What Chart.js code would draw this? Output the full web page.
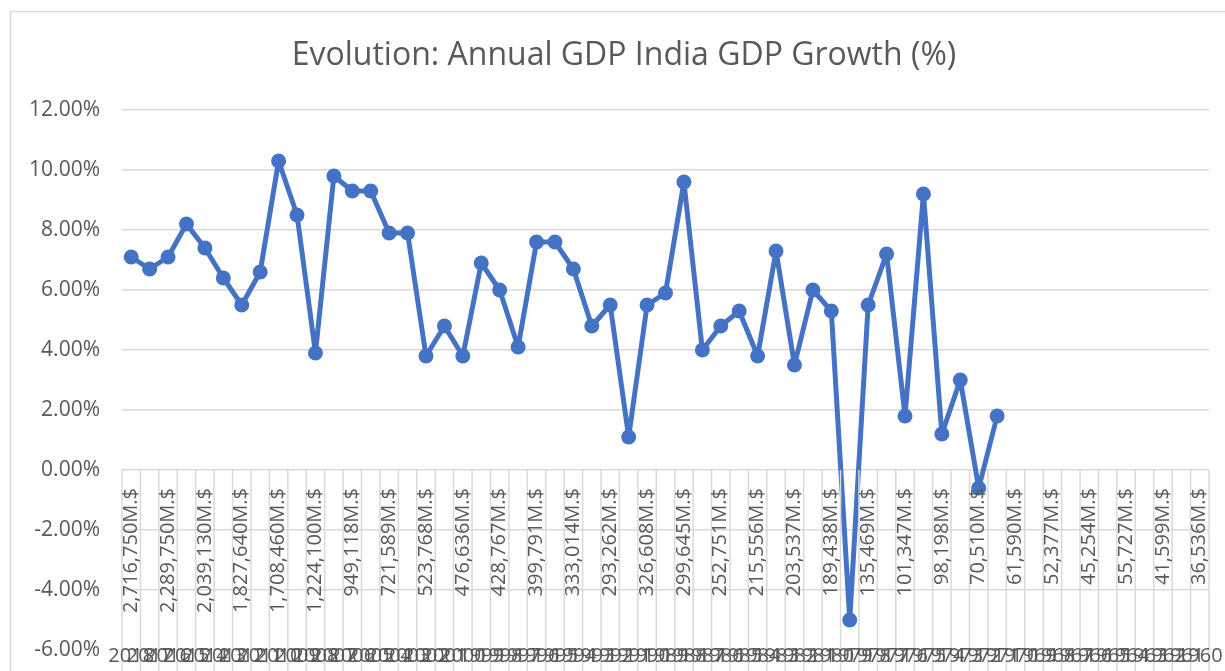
<!DOCTYPE html>
<html>
<head>
<meta charset="utf-8">
<script src="https://cdn.jsdelivr.net/npm/chart.js@4/dist/chart.umd.min.js"></script>
<style>
  html, body { margin: 0; padding: 0; background: #ffffff; }
  #wrap { width: 1225px; height: 671px; position: relative; }
</style>
</head>
<body>
<div id="wrap"><canvas id="gdp-chart" width="1225" height="671"></canvas></div>
<script>
const chartTitle = 'Evolution: Annual GDP India GDP Growth (%)';

const years = [
  2018, 2017, 2016, 2015, 2014, 2013, 2012, 2011, 2010, 2009,
  2008, 2007, 2006, 2005, 2004, 2003, 2002, 2001, 2000, 1999,
  1998, 1997, 1996, 1995, 1994, 1993, 1992, 1991, 1990, 1989,
  1988, 1987, 1986, 1985, 1984, 1983, 1982, 1981, 1980, 1979,
  1978, 1977, 1976, 1975, 1974, 1973, 1972, 1971, 1970, 1969,
  1968, 1967, 1966, 1965, 1964, 1963, 1962, 1961, 1960,
];

// growth in %, from 2018 backwards; no points after 1971
const growth = [
  7.1, 6.7, 7.1, 8.2, 7.4, 6.4, 5.5, 6.6, 10.3, 8.5,
  3.9, 9.8, 9.3, 9.3, 7.9, 7.9, 3.8, 4.8, 3.8, 6.9,
  6.0, 4.1, 7.6, 7.6, 6.7, 4.8, 5.5, 1.1, 5.5, 5.9,
  9.6, 4.0, 4.8, 5.3, 3.8, 7.3, 3.5, 6.0, 5.3, -5.0,
  5.5, 7.2, 1.8, 9.2, 1.2, 3.0, -0.6, 1.8,
];

// GDP labels, shown on every other year (2018, 2016, ... 1960)
const gdpLabels = [
  '2,716,750M.$', '2,289,750M.$', '2,039,130M.$', '1,827,640M.$', '1,708,460M.$',
  '1,224,100M.$', '949,118M.$', '721,589M.$', '523,768M.$', '476,636M.$',
  '428,767M.$', '399,791M.$', '333,014M.$', '293,262M.$', '326,608M.$',
  '299,645M.$', '252,751M.$', '215,556M.$', '203,537M.$', '189,438M.$',
  '135,469M.$', '101,347M.$', '98,198M.$', '70,510M.$', '61,590M.$',
  '52,377M.$', '45,254M.$', '55,727M.$', '41,599M.$', '36,536M.$',
];

const yTicks = [-6, -4, -2, 0, 2, 4, 6, 8, 10, 12];

const FONT = "'Open Sans', 'Noto Sans', sans-serif";
const TEXT = '#595959';
const GRID = '#d9d9d9';
const BLUE = '#4472c4';

const seriesData = years.map((_, i) => (i < growth.length ? growth[i] : null));

const excelFrame = {
  id: 'excelFrame',
  beforeDraw(chart) {
    const ctx = chart.ctx;
    ctx.save();
    ctx.strokeStyle = GRID;
    ctx.lineWidth = 1.5;
    ctx.beginPath();
    ctx.moveTo(10.5, chart.height);
    ctx.lineTo(10.5, 11.5);
    ctx.lineTo(chart.width, 11.5);
    ctx.stroke();
    ctx.fillStyle = TEXT;
    ctx.font = `32px ${FONT}`;
    ctx.textAlign = 'center';
    ctx.textBaseline = 'middle';
    ctx.fillText(chartTitle, 624, 56);
    ctx.restore();
  },
  afterDatasetsDraw(chart) {
    const ctx = chart.ctx;
    const x = chart.scales.x;
    const y = chart.scales.y;
    const zero = y.getPixelForValue(0);
    const step = (x.right - x.left) / years.length;
    ctx.save();
    ctx.strokeStyle = GRID;
    ctx.lineWidth = 1.5;
    ctx.beginPath();
    for (let k = 0; k <= years.length; k++) {
      const px = x.left + k * step;
      ctx.moveTo(px, zero);
      ctx.lineTo(px, chart.height);
    }
    ctx.stroke();

    ctx.fillStyle = TEXT;
    ctx.font = `20px ${FONT}`;
    ctx.textAlign = 'right';
    ctx.textBaseline = 'middle';
    gdpLabels.forEach((label, i) => {
      const px = x.getPixelForValue(i * 2);
      ctx.save();
      ctx.translate(px, zero + 18);
      ctx.rotate(-Math.PI / 2);
      ctx.fillText(label, 0, 0);
      ctx.restore();
    });

    ctx.font = `20px ${FONT}`;
    ctx.textAlign = 'center';
    years.forEach((yr, i) => {
      ctx.fillText(String(yr), x.getPixelForValue(i), 656);
    });
    ctx.restore();
  },
};

new Chart(document.getElementById('gdp-chart'), {
  type: 'line',
  data: {
    labels: years.map(String),
    datasets: [{
      label: 'GDP Growth',
      data: seriesData,
      borderColor: BLUE,
      backgroundColor: BLUE,
      borderWidth: 5,
      borderJoinStyle: 'round',
      borderCapStyle: 'round',
      pointRadius: 7.5,
      pointBackgroundColor: BLUE,
      pointBorderWidth: 0,
      tension: 0,
      spanGaps: false,
    }],
  },
  options: {
    responsive: false,
    animation: false,
    devicePixelRatio: 1,
    layout: { padding: { top: 110, bottom: 21, right: 16, left: 0 } },
    plugins: { legend: { display: false }, tooltip: { enabled: false }, title: { display: false } },
    scales: {
      x: {
        display: false,
        offset: true,
      },
      y: {
        min: -6,
        max: 12,
        afterFit(scale) {
          scale.width = 122;
          scale.paddingTop = 0;
          scale.paddingBottom = 0;
        },
        afterBuildTicks(scale) { scale.ticks = yTicks.map((v) => ({ value: v })); },
        grid: { color: GRID, lineWidth: 1.5, drawTicks: false },
        border: { display: false },
        ticks: {
          color: TEXT,
          font: { family: FONT, size: 21 },
          padding: 22,
          callback: (v) => v.toFixed(2) + '%',
        },
      },
    },
  },
  plugins: [excelFrame],
});
</script>
</body>
</html>
